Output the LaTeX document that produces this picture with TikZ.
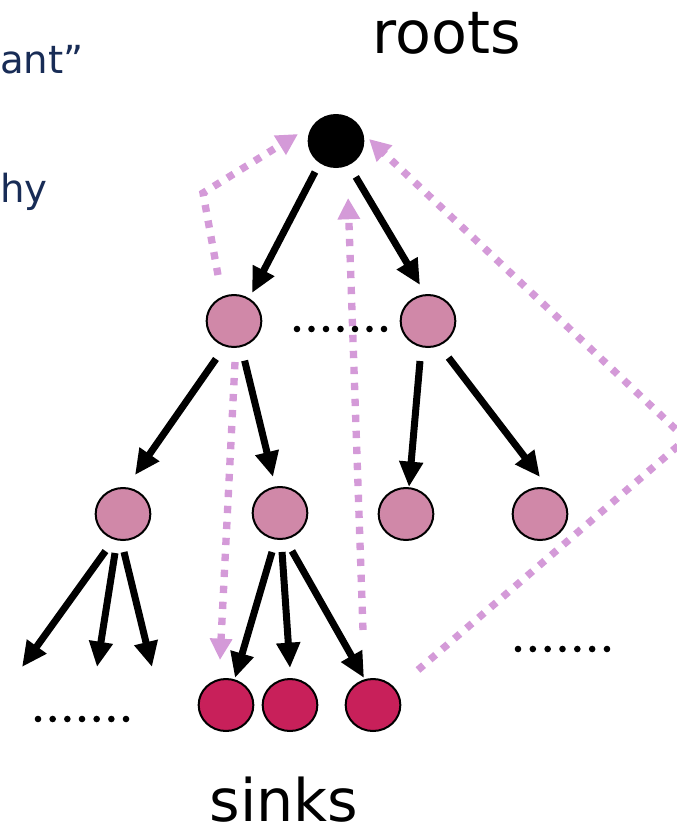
\documentclass[tikz,border=0pt]{standalone}
\usepackage{fontspec}
\setmainfont{DejaVu Sans}
\usetikzlibrary{arrows.meta,shapes.geometric,calc}
\definecolor{navy}{RGB}{24,44,86}
\definecolor{pinkn}{RGB}{208,136,168}
\definecolor{sinkc}{RGB}{200,32,90}
\definecolor{lav}{RGB}{212,154,216}
\begin{document}
\begin{tikzpicture}[x=0.75pt,y=0.75pt,
  nd/.style={ellipse, draw=black, line width=1.5pt, minimum width=41pt, minimum height=39pt, inner sep=0pt},
  innernode/.style={nd, fill=pinkn},
  sinknode/.style={nd, fill=sinkc},
  rootnode/.style={nd, fill=black},
  arr/.style={line width=5.25pt, -{Triangle[length=19pt,width=17pt]}},
  back/.style={draw=lav, line width=5.5pt, dash pattern=on 5.5pt off 6.5pt, -{Triangle[length=16pt,width=16pt]}},
  lbl/.style={font=\fontsize{44}{52}\selectfont, inner sep=0pt, anchor=base},
  side/.style={font=\fontsize{29}{34}\selectfont, text=navy, inner sep=0pt, anchor=base west}
]
\useasboundingbox (0,0) rectangle (677,-829);

% nodes
\node[rootnode] (root) at (336,-141) {};
\node[innernode] (a) at (234,-321) {};
\node[innernode] (b) at (428,-321) {};
\node[innernode] (aa) at (123,-514) {};
\node[innernode] (ab) at (280,-513) {};
\node[innernode] (ba) at (406,-514) {};
\node[innernode] (bb) at (540,-514) {};
\node[sinknode] (s1) at (226,-705) {};
\node[sinknode] (s2) at (290,-705) {};
\node[sinknode] (s3) at (373,-705) {};
\coordinate (c1) at (22,-667);
\coordinate (c2) at (97,-667);
\coordinate (c3) at (152,-667);
\coordinate (kA) at (203,-193);
\coordinate (kD) at (686,-439);

% labels
\node[lbl] (rootslbl) at (447,-53) {roots};
\node[lbl] (sinkslbl) at (284,-821) {sinks};
\node[side] (t1) at (0,-73) {ant”};
\node[side] (t2) at (0,-202) {hy};

% lavender back paths
\draw[back] ($(a)+(109.2:48.7)$) -- (kA) -- ($(root)+(169.6:38.6)$);
\draw[back] ($(s3)+(97.6:75.7)$) -- ($(root)+(282:58.2)$);
\draw[back] ($(a)+(271.4:41)$) -- ($(s1)+(97.6:45.4)$);
\draw[back] ($(s3)+(37.9:57)$) -- (kD) -- ($(root)+(3.5:33.1)$);

% black tree arrows
\draw[arr] ($(root)+(235.9:37.4)$) -- ($(a)+(57.3:33.3)$);
\draw[arr] ($(root)+(298.9:41)$) -- ($(b)+(102.5:36.9)$);
\draw[arr] ($(a)+(244.6:42)$) -- ($(aa)+(72.9:40.8)$);
\draw[arr] ($(a)+(285:41)$) -- ($(ab)+(101:36.7)$);
\draw[arr] ($(b)+(258.7:40.8)$) -- ($(ba)+(83.7:27.2)$);
\draw[arr] ($(b)+(299.4:42)$) -- ($(bb)+(90:37)$);
\draw[arr] ($(aa)+(244.7:41)$) -- (c1);
\draw[arr] ($(aa)+(258.4:39.8)$) -- (c2);
\draw[arr] ($(aa)+(271.5:38)$) -- (c3);
\draw[arr] ($(ab)+(258.4:39.8)$) -- ($(s1)+(71.6:28.5)$);
\draw[arr] ($(ab)+(273:39)$) -- ($(s2)+(90:37)$);
\draw[arr] ($(ab)+(287.5:39.8)$) -- ($(s3)+(108.4:28.5)$);

% ellipsis dots
\foreach \i in {0,...,6} {
  \fill (297+\i*14.5,-329) circle (3.3);
  \fill (38+\i*14.67,-719) circle (3.3);
  \fill (518+\i*14.83,-649) circle (3.3);
}
\end{tikzpicture}
\end{document}
